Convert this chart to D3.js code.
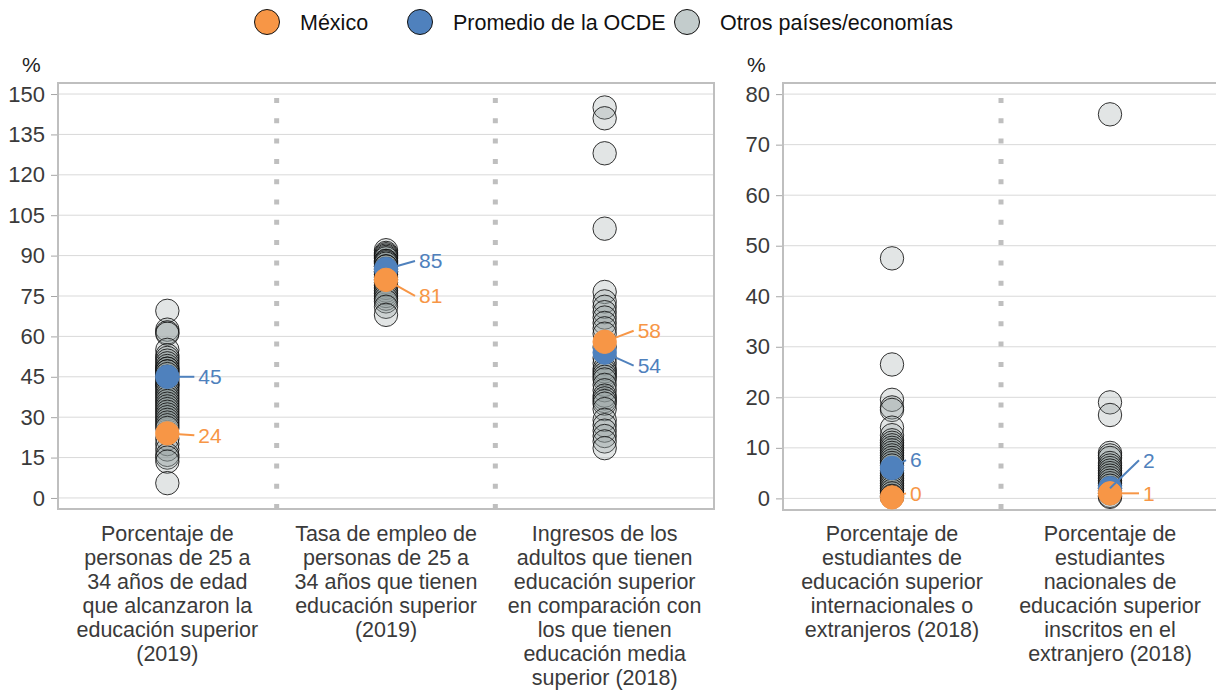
<!DOCTYPE html>
<html>
<head>
<meta charset="utf-8">
<script src="https://cdn.jsdelivr.net/npm/d3@7"></script>
<style>
  body { margin: 0; background: #fff; }
  text { font-family: "Liberation Sans", Arial, sans-serif; }
</style>
</head>
<body>
<svg id="chart"></svg>
<script>
// categories (left panel = first three, right panel = last two)
const categories = [
  ["Porcentaje de", "personas de 25 a", "34 años de edad", "que alcanzaron la", "educación superior", "(2019)"],
  ["Tasa de empleo de", "personas de 25 a", "34 años que tienen", "educación superior", "(2019)"],
  ["Ingresos de los", "adultos que tienen", "educación superior", "en comparación con", "los que tienen", "educación media", "superior (2018)"],
  ["Porcentaje de", "estudiantes de", "educación superior", "internacionales o", "extranjeros (2018)"],
  ["Porcentaje de", "estudiantes", "nacionales de", "educación superior", "inscritos en el", "extranjero (2018)"]
];

const mexico = [24, 81, 58, 0.2, 1];
const oecd   = [45, 85, 54, 6, 2];

// other countries / economies, per category
const others1 = [69.5, 62.5, 61.5, 61, 55, 53, 52, 51, 50, 49, 48, 48, 47, 47, 46, 45, 44, 43, 42, 42, 41, 40, 39,
                 38, 37, 36, 35, 34, 33, 32, 31, 30, 29, 28, 27, 26, 22, 20, 18, 16, 15, 13.5, 5.5];
const others2 = [92, 91, 90.5, 90, 89.5, 89, 88, 88, 87.5, 87, 86, 86, 85, 84, 84, 83, 82, 81, 80, 79, 78, 77,
                 76, 75, 74, 73, 71, 68];
const others3 = [145, 141, 128, 100, 76.5, 73, 71, 69, 67, 65, 63, 61, 56, 52, 50, 48, 47, 46, 45, 44, 42, 40,
                 38, 37, 36, 35, 33, 29, 27, 25, 23, 21, 18.5];
const others4 = [47.5, 26.5, 19.5, 18, 17.5, 14, 12.5, 11.5, 11, 10.5, 10, 9.5, 9, 8.5, 8, 7.5, 7, 6.5, 5.5, 5,
                 4.5, 4, 3.5, 3, 2.5, 2, 1.5, 1, 0.5, 0.3];
const others5 = [76, 19, 16.5, 9, 8.5, 8, 7, 6.5, 6, 5.5, 5, 4.5, 4, 3.5, 3, 2.5, 2, 1.5, 1, 0.5, 0.3];
const others = [others1, others2, others3, others4, others5];

const leftTicks  = [0, 15, 30, 45, 60, 75, 90, 105, 120, 135, 150];
const rightTicks = [0, 10, 20, 30, 40, 50, 60, 70, 80];

const legendItems = ["México", "Promedio de la OCDE", "Otros países/economías"];

// label offsets for the highlighted points [dx, dy] (layout only)
const mexLabelPos  = [[31, 2], [33, 16], [33, -11], [18, -4], [33, 0]];
const oecdLabelPos = [[31, 0], [33, -8], [33, 13], [18, -8], [33, -28]];

const ORANGE = "#F79646", BLUE = "#4F81BD", GREY = "#8e9c9c";
const TEXT = "#3a3a3a";
const r = 11.7;

const svg = d3.select("#chart").attr("width", 1216).attr("height", 690);

// panels
const panels = [
  { idx: [0, 1, 2], x0: 58, x1: 714, y: d3.scaleLinear().domain([-4.1, 154.1]).range([509, 83]), ticks: leftTicks },
  { idx: [3, 4], x0: 783, x1: 1219, y: d3.scaleLinear().domain([-2.3, 82.2]).range([510, 83]), ticks: rightTicks }
];

panels.forEach(p => {
  const x = d3.scaleBand().domain(p.idx).range([p.x0, p.x1]);
  p.x = x;
  const [yb, yt] = p.y.range();

  // gridlines
  svg.append("g")
    .selectAll("line").data(p.ticks).enter().append("line")
    .attr("x1", p.x0).attr("x2", p.x1)
    .attr("y1", d => p.y(d)).attr("y2", d => p.y(d))
    .attr("stroke", "#d9d9d9").attr("stroke-width", 1);

  // y axis
  const ax = svg.append("g")
    .attr("transform", `translate(${p.x0},0)`)
    .call(d3.axisLeft(p.y).tickValues(p.ticks).tickSize(7).tickPadding(6));
  ax.select(".domain").remove();
  ax.selectAll(".tick line").attr("stroke", "#a6a6a6");
  ax.selectAll(".tick text").attr("fill", TEXT).style("font-size", "22px")
    .style("font-family", "'Liberation Sans', Arial, sans-serif");

  // dotted separators
  p.idx.slice(1).forEach(i => {
    svg.append("line")
      .attr("x1", x(i)).attr("x2", x(i))
      .attr("y1", yt + 15).attr("y2", yb)
      .attr("stroke", "#bfbfbf").attr("stroke-width", 5)
      .attr("stroke-dasharray", "5,15.3");
  });

  // frame
  svg.append("rect")
    .attr("x", p.x0).attr("y", yt)
    .attr("width", p.x1 - p.x0).attr("height", yb - yt)
    .attr("fill", "none").attr("stroke", "#bfbfbf").attr("stroke-width", 2);

  // "%" label
  svg.append("text").attr("x", p.x0 - 36).attr("y", 72)
    .attr("fill", "#222").style("font-size", "21px").text("%");

  p.idx.forEach(i => {
    const cx = x(i) + x.bandwidth() / 2;
    const g = svg.append("g");

    // other countries
    g.selectAll("circle.other").data(others[i]).enter().append("circle")
      .attr("class", "other")
      .attr("cx", cx).attr("cy", d => p.y(d)).attr("r", r)
      .attr("fill", GREY).attr("fill-opacity", 0.26)
      .attr("stroke", "#111").attr("stroke-opacity", 0.85).attr("stroke-width", 1);

    const hl = [
      { v: oecd[i], c: BLUE, pos: oecdLabelPos[i] },
      { v: mexico[i], c: ORANGE, pos: mexLabelPos[i] }
    ];
    hl.forEach(h => {
      g.append("circle").attr("cx", cx).attr("cy", p.y(h.v)).attr("r", r)
        .attr("fill", h.c).attr("stroke", h.c).attr("stroke-width", 1);
    });
    hl.forEach(h => {
      const cy = p.y(h.v);
      const lx = cx + h.pos[0], ly = cy + h.pos[1];
      const ex = lx - 4, ey = ly;
      const a = Math.atan2(ey - cy, ex - cx);
      const start = Math.abs(h.pos[1]) > 20 ? 0 : r;
      g.append("line")
        .attr("x1", cx + start * Math.cos(a)).attr("y1", cy + start * Math.sin(a))
        .attr("x2", ex).attr("y2", ey)
        .attr("stroke", h.c).attr("stroke-width", 2);
      g.append("text").attr("x", lx).attr("y", ly).attr("dy", "0.35em")
        .attr("fill", h.c).style("font-size", "21px")
        .text(d3.format(".0f")(h.v));
    });

    // category label
    const t = svg.append("text").attr("text-anchor", "middle")
      .attr("fill", TEXT).style("font-size", "21.5px");
    categories[i].forEach((line, k) => {
      t.append("tspan").attr("x", cx).attr("y", 541 + k * 24).text(line);
    });
  });
});

// legend
const legendX = [267, 420, 687];
const legendFill = [ORANGE, BLUE, "#c3cccc"];
const lg = svg.append("g");
legendItems.forEach((name, i) => {
  lg.append("circle").attr("cx", legendX[i]).attr("cy", 22).attr("r", 12.5)
    .attr("fill", legendFill[i]).attr("stroke", "#111").attr("stroke-width", 1);
  lg.append("text").attr("x", legendX[i] + 33).attr("y", 22).attr("dy", "0.35em")
    .attr("fill", "#111").style("font-size", "21.5px").text(name);
});
</script>
</body>
</html>
